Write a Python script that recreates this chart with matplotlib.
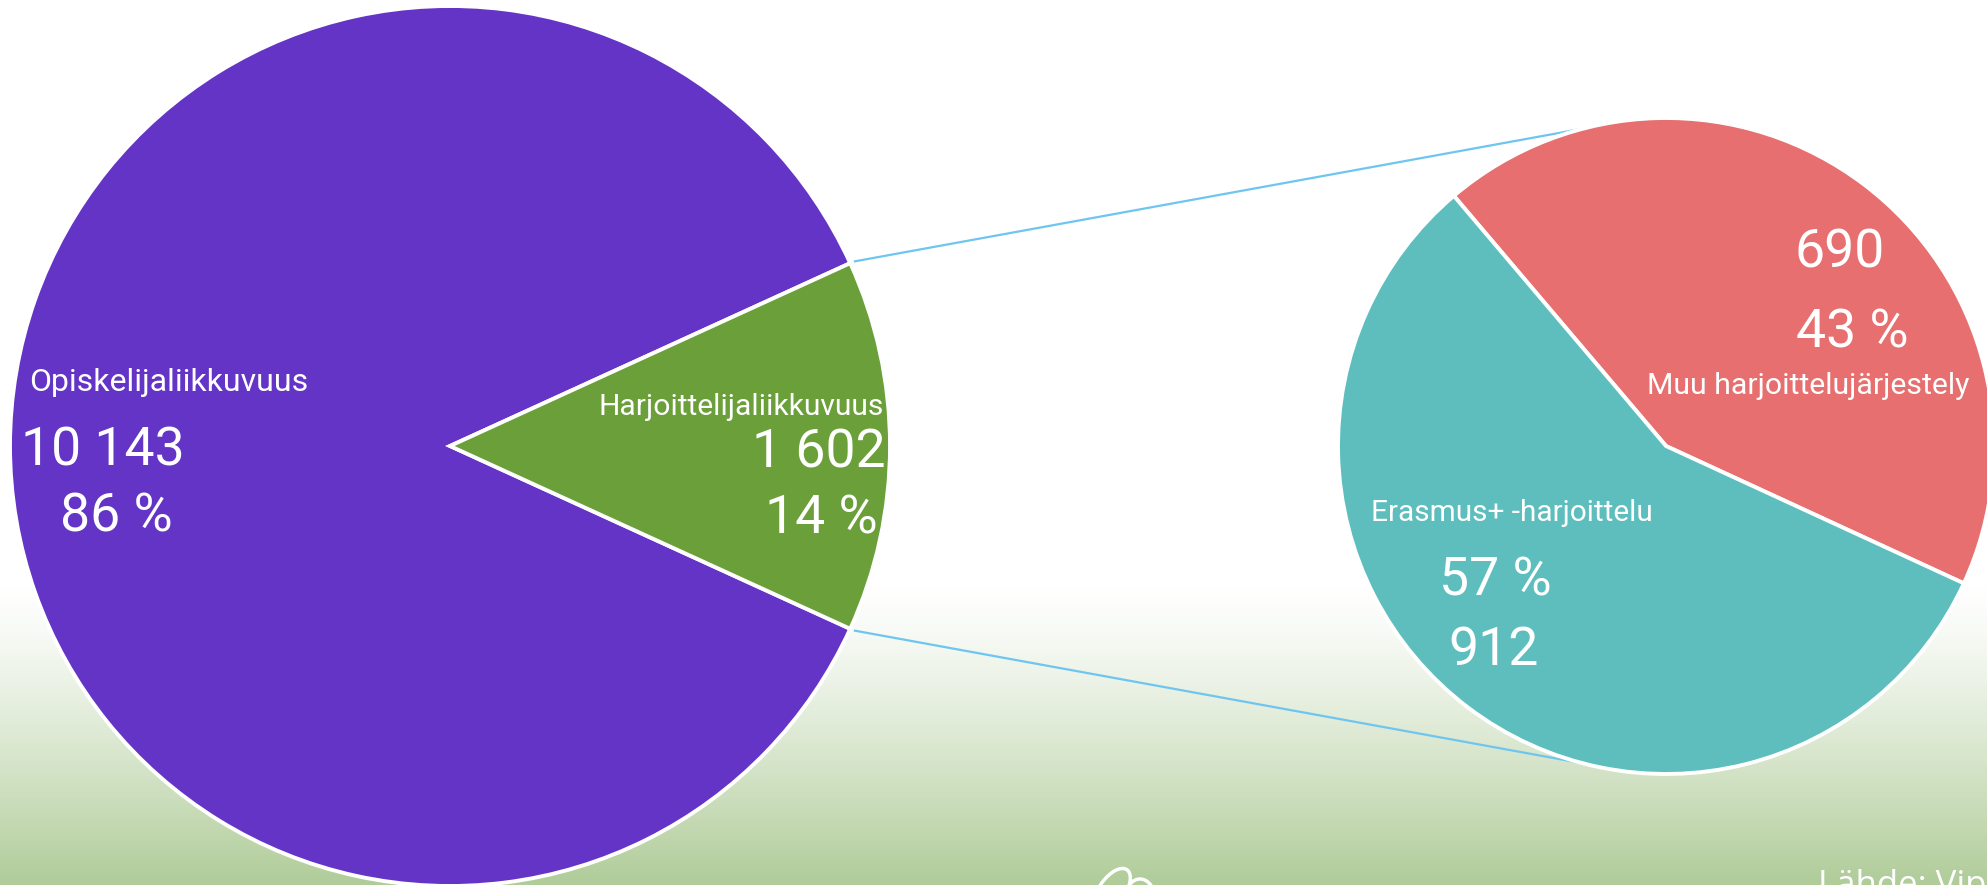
import numpy as np
import matplotlib
matplotlib.use("Agg")
import matplotlib.pyplot as plt
from matplotlib.patches import Ellipse

# ---- data ----
main_labels = ["Opiskelijaliikkuvuus", "Harjoittelijaliikkuvuus"]
main_values = [10143, 1602]
main_value_text = ["10 143", "1 602"]
main_pct_text = ["86 %", "14 %"]
main_colors = ["#6434C7", "#6A9F3A"]

sub_labels = ["Muu harjoittelujärjestely", "Erasmus+ -harjoittelu"]
sub_values = [690, 912]
sub_value_text = ["690", "912"]
sub_pct_text = ["43 %", "57 %"]
sub_colors = ["#E76F6F", "#5EBEBE"]

source_text = "Lähde: Vipunen"

W, H = 1987, 885
fig = plt.figure(figsize=(W / 100, H / 100), dpi=100)
ax = fig.add_axes([0, 0, 1, 1])

# background gradient (white -> pale green at bottom)
grad_h = 300
t = np.linspace(0, 1, grad_h)[:, None] ** 1.25
top = np.array([1.0, 1.0, 1.0])
bot = np.array([176, 204, 153]) / 255.0
img = top[None, None, :] * (1 - t[..., None]) + bot[None, None, :] * t[..., None]
img = np.repeat(img, 4, axis=1)
ax.imshow(img, extent=[0, W, 0, grad_h], origin="upper", aspect="auto", zorder=0)

FONT = "Roboto"
EDGE = dict(edgecolor="white", linewidth=2.8)

# main pie
main_c = (450, 439)
main_r = 440
green_span = main_values[1] / sum(main_values) * 360
wedges_main, _ = ax.pie(main_values, colors=main_colors, center=main_c, radius=main_r,
                        startangle=green_span / 2, counterclock=True,
                        explode=[0, 0.014], wedgeprops=EDGE, frame=True)

# sub pie
sub_c = (1666, 439)
sub_r = 328
red_span = sub_values[0] / sum(sub_values) * 360
wedges_sub, _ = ax.pie(sub_values, colors=sub_colors, center=sub_c, radius=sub_r,
                       startangle=130.3 - red_span, counterclock=True,
                       wedgeprops=EDGE, frame=True)
ax.set_xlim(0, W)
ax.set_ylim(0, H)
ax.set_aspect("equal")
ax.axis("off")

# connector lines
gc = wedges_main[1].center
for sgn in (1, -1):
    a = np.deg2rad(sgn * green_span / 2)
    p0 = (gc[0] + (main_r + 4) * np.cos(a), gc[1] + (main_r + 4) * np.sin(a))
    b = np.deg2rad(sgn * 104.5)
    p1 = (sub_c[0] + sub_r * np.cos(b), sub_c[1] + sub_r * np.sin(b))
    ax.plot([p0[0], p1[0]], [p0[1], p1[1]], color="#6EC6F0", lw=1.6, zorder=1,
            solid_capstyle="butt")
for w in wedges_main + wedges_sub:
    w.set_zorder(2)

def txt(x, yimg, s, size, ha="left", family=FONT, **kw):
    ax.text(x, H - yimg, s, fontsize=size, ha=ha, va="baseline", color="white",
            family=family, zorder=5, **kw)

# main labels
txt(29, 391, main_labels[0], 23)
txt(21, 466, main_value_text[0], 38.5)
txt(60, 531, main_pct_text[0], 38.5)

txt(884, 415, main_labels[1], 21.6, ha="right")
txt(886, 467, main_value_text[1], 38.5, ha="right")
txt(878, 533, main_pct_text[1], 38.5, ha="right")

# sub labels
txt(1795, 268, sub_value_text[0], 38.5)
txt(1796, 347, sub_pct_text[0], 38.5)
txt(1808, 394, sub_labels[0], 21.8, ha="center",
    family=["Liberation Sans Narrow", "Roboto"])

txt(1371, 521, sub_labels[1], 21.4)
txt(1439, 595, sub_pct_text[1], 38.5)
txt(1448, 665, sub_value_text[1], 38.5)

# source (cut off at the bottom edge as in the reference)
ax.text(1818, -10, source_text, fontsize=25, ha="left", va="baseline",
        color="white", family="Open Sans", zorder=5)

# partial logo at the bottom edge
ax.add_patch(Ellipse((1112, -6), 26, 52, angle=-35, facecolor="none",
                     edgecolor="white", lw=2.5, zorder=5))
ax.add_patch(Ellipse((1140, -14), 30, 40, angle=0, facecolor="none",
                     edgecolor="white", lw=2.5, zorder=5))

fig.savefig("out.png", dpi=100)
